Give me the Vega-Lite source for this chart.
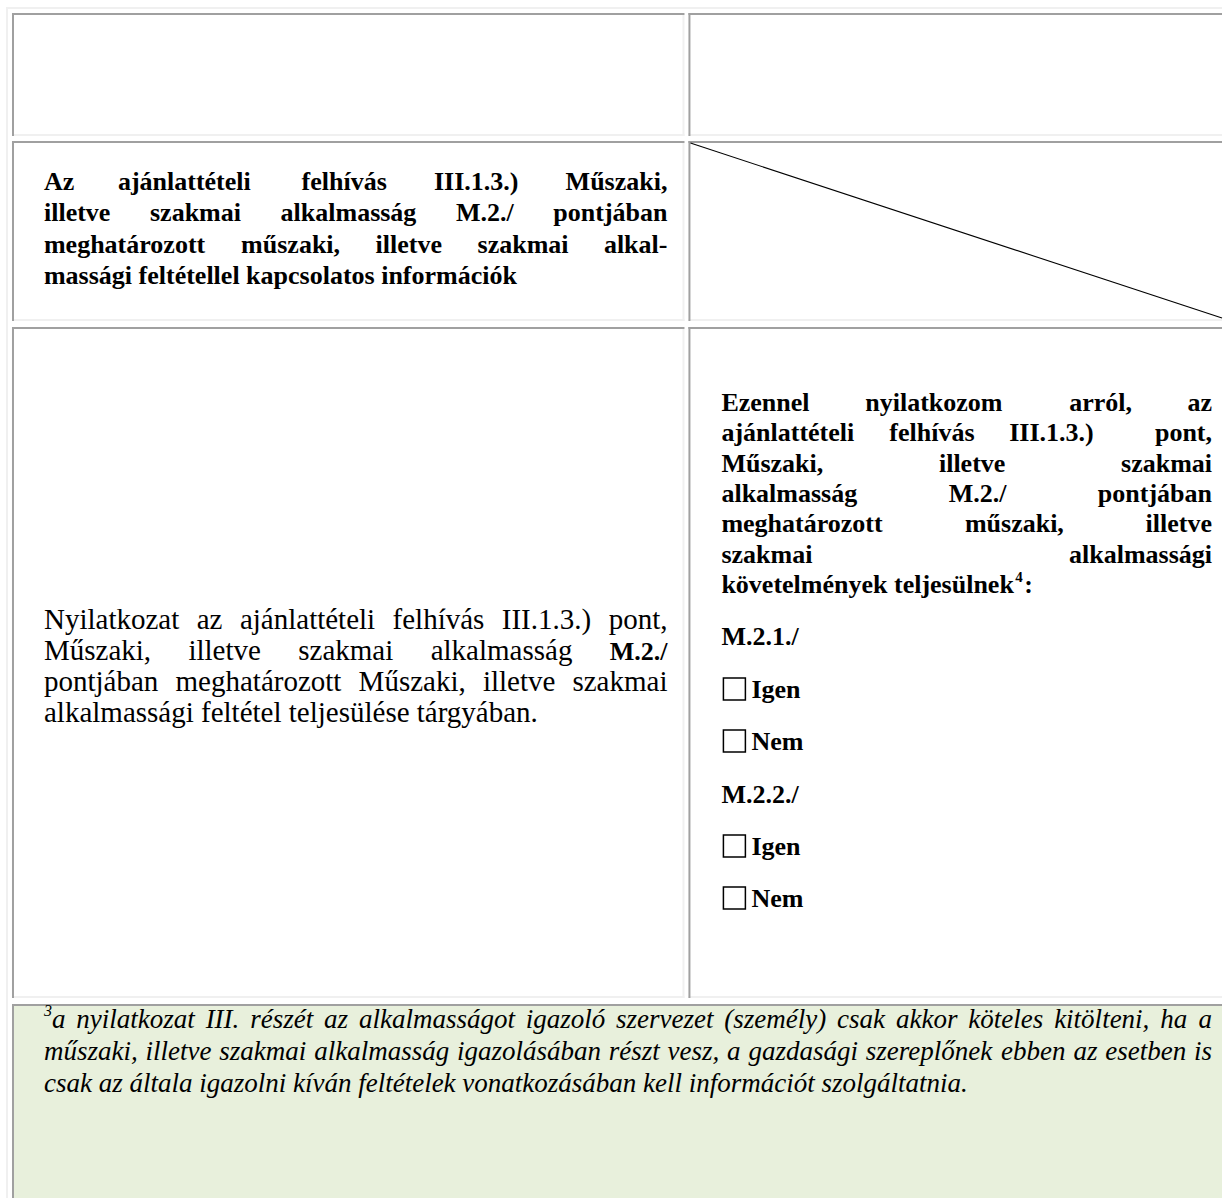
{
  "$schema": "https://vega.github.io/schema/vega-lite/v6.json",
  "width": 1223,
  "height": 1198,
  "padding": 0,
  "autosize": {"type": "fit", "contains": "padding"},
  "background": "white",
  "config": {"view": {"stroke": null}, "axis": {"disable": true}},
  "datasets": {
    "fills": [
      {"x": 14, "x2": 1223, "y": 1006, "y2": 1198, "part": "note"}
    ],
    "bars": [
      {"x": 6, "x2": 1223, "y": 7, "y2": 9, "tone": "light"},
      {"x": 6, "x2": 8, "y": 7, "y2": 1198, "tone": "light"},
      {"x": 12, "x2": 685, "y": 134, "y2": 136, "tone": "light"},
      {"x": 683, "x2": 685, "y": 13, "y2": 136, "tone": "light"},
      {"x": 689, "x2": 1223, "y": 134, "y2": 136, "tone": "light"},
      {"x": 12, "x2": 685, "y": 319, "y2": 321, "tone": "light"},
      {"x": 683, "x2": 685, "y": 141, "y2": 321, "tone": "light"},
      {"x": 689, "x2": 1223, "y": 319, "y2": 321, "tone": "light"},
      {"x": 12, "x2": 685, "y": 996, "y2": 998, "tone": "light"},
      {"x": 683, "x2": 685, "y": 327, "y2": 998, "tone": "light"},
      {"x": 689, "x2": 1223, "y": 996, "y2": 998, "tone": "light"},
      {"x": 12, "x2": 685, "y": 13, "y2": 15, "tone": "dark"},
      {"x": 12, "x2": 14, "y": 13, "y2": 136, "tone": "dark"},
      {"x": 689, "x2": 1223, "y": 13, "y2": 15, "tone": "dark"},
      {"x": 689, "x2": 691, "y": 13, "y2": 136, "tone": "dark"},
      {"x": 12, "x2": 685, "y": 141, "y2": 143, "tone": "dark"},
      {"x": 12, "x2": 14, "y": 141, "y2": 321, "tone": "dark"},
      {"x": 689, "x2": 1223, "y": 141, "y2": 143, "tone": "dark"},
      {"x": 689, "x2": 691, "y": 141, "y2": 321, "tone": "dark"},
      {"x": 12, "x2": 685, "y": 327, "y2": 329, "tone": "dark"},
      {"x": 12, "x2": 14, "y": 327, "y2": 998, "tone": "dark"},
      {"x": 689, "x2": 1223, "y": 327, "y2": 329, "tone": "dark"},
      {"x": 689, "x2": 691, "y": 327, "y2": 998, "tone": "dark"},
      {"x": 12, "x2": 1223, "y": 1004, "y2": 1006, "tone": "dark"},
      {"x": 12, "x2": 14, "y": 1004, "y2": 1198, "tone": "dark"}
    ],
    "diag": [
      {"x": 691, "y": 143, "x2": 1223, "y2": 318}
    ],
    "boxes": [
      {"x": 724, "x2": 746, "y": 678, "y2": 700},
      {"x": 724, "x2": 746, "y": 730, "y2": 752},
      {"x": 724, "x2": 746, "y": 835, "y2": 857},
      {"x": 724, "x2": 746, "y": 887, "y2": 909}
    ],
    "words": [
      {"t": "Az", "x": 44, "y": 190, "role": "h", "edge": "s"},
      {"t": "ajánlattételi", "x": 118, "y": 190, "role": "h", "edge": "s"},
      {"t": "felhívás", "x": 301.8, "y": 190, "role": "h", "edge": "s"},
      {"t": "III.1.3.)", "x": 434.3, "y": 190, "role": "h", "edge": "s"},
      {"t": "Műszaki,", "x": 668, "y": 190, "role": "h", "edge": "e"},
      {"t": "illetve", "x": 44, "y": 221, "role": "h", "edge": "s"},
      {"t": "szakmai", "x": 150.1, "y": 221, "role": "h", "edge": "s"},
      {"t": "alkalmasság", "x": 280.8, "y": 221, "role": "h", "edge": "s"},
      {"t": "M.2./", "x": 456.3, "y": 221, "role": "h", "edge": "s"},
      {"t": "pontjában", "x": 668, "y": 221, "role": "h", "edge": "e"},
      {"t": "meghatározott", "x": 44, "y": 253, "role": "h", "edge": "s"},
      {"t": "műszaki,", "x": 241.3, "y": 253, "role": "h", "edge": "s"},
      {"t": "illetve", "x": 375.9, "y": 253, "role": "h", "edge": "s"},
      {"t": "szakmai", "x": 477.9, "y": 253, "role": "h", "edge": "s"},
      {"t": "alkal-", "x": 668, "y": 253, "role": "h", "edge": "e"},
      {"t": "massági feltétellel kapcsolatos információk", "x": 44, "y": 284, "role": "h", "edge": "s"},
      {"t": "Ezennel", "x": 722, "y": 411, "role": "h", "edge": "s"},
      {"t": "nyilatkozom", "x": 866, "y": 411, "role": "h", "edge": "s"},
      {"t": "arról,", "x": 1070, "y": 411, "role": "h", "edge": "s"},
      {"t": "az", "x": 1213, "y": 411, "role": "h", "edge": "e"},
      {"t": "ajánlattételi", "x": 722, "y": 441, "role": "h", "edge": "s"},
      {"t": "felhívás", "x": 890, "y": 441, "role": "h", "edge": "s"},
      {"t": "III.1.3.)", "x": 1010, "y": 441, "role": "h", "edge": "s"},
      {"t": "pont,", "x": 1213, "y": 441, "role": "h", "edge": "e"},
      {"t": "Műszaki,", "x": 722, "y": 472, "role": "h", "edge": "s"},
      {"t": "illetve", "x": 939.7, "y": 472, "role": "h", "edge": "s"},
      {"t": "szakmai", "x": 1213, "y": 472, "role": "h", "edge": "e"},
      {"t": "alkalmasság", "x": 722, "y": 502, "role": "h", "edge": "s"},
      {"t": "M.2./", "x": 949.5, "y": 502, "role": "h", "edge": "s"},
      {"t": "pontjában", "x": 1213, "y": 502, "role": "h", "edge": "e"},
      {"t": "meghatározott", "x": 722, "y": 532, "role": "h", "edge": "s"},
      {"t": "műszaki,", "x": 965.7, "y": 532, "role": "h", "edge": "s"},
      {"t": "illetve", "x": 1213, "y": 532, "role": "h", "edge": "e"},
      {"t": "szakmai", "x": 722, "y": 563, "role": "h", "edge": "s"},
      {"t": "alkalmassági", "x": 1213, "y": 563, "role": "h", "edge": "e"},
      {"t": "követelmények teljesülnek", "x": 722, "y": 593, "role": "h", "edge": "s"},
      {"t": "4", "x": 1016, "y": 582, "role": "hs", "edge": "s"},
      {"t": ":", "x": 1025, "y": 593, "role": "h", "edge": "s"},
      {"t": "M.2.1./", "x": 722, "y": 645, "role": "h", "edge": "s"},
      {"t": "Igen", "x": 752, "y": 698, "role": "h", "edge": "s"},
      {"t": "Nem", "x": 752, "y": 750, "role": "h", "edge": "s"},
      {"t": "M.2.2./", "x": 722, "y": 803, "role": "h", "edge": "s"},
      {"t": "Igen", "x": 752, "y": 855, "role": "h", "edge": "s"},
      {"t": "Nem", "x": 752, "y": 907, "role": "h", "edge": "s"},
      {"t": "Nyilatkozat", "x": 44, "y": 629, "role": "r", "edge": "s"},
      {"t": "az", "x": 196.8, "y": 629, "role": "r", "edge": "s"},
      {"t": "ajánlattételi", "x": 240.1, "y": 629, "role": "r", "edge": "s"},
      {"t": "felhívás", "x": 392.9, "y": 629, "role": "r", "edge": "s"},
      {"t": "III.1.3.)", "x": 502.2, "y": 629, "role": "r", "edge": "s"},
      {"t": "pont,", "x": 668, "y": 629, "role": "r", "edge": "e"},
      {"t": "Műszaki,", "x": 44, "y": 660, "role": "r", "edge": "s"},
      {"t": "illetve", "x": 188.6, "y": 660, "role": "r", "edge": "s"},
      {"t": "szakmai", "x": 298.5, "y": 660, "role": "r", "edge": "s"},
      {"t": "alkalmasság", "x": 431, "y": 660, "role": "r", "edge": "s"},
      {"t": "M.2./", "x": 668, "y": 660, "role": "h", "edge": "e"},
      {"t": "pontjában", "x": 44, "y": 691, "role": "r", "edge": "s"},
      {"t": "meghatározott", "x": 175.7, "y": 691, "role": "r", "edge": "s"},
      {"t": "Műszaki,", "x": 358.9, "y": 691, "role": "r", "edge": "s"},
      {"t": "illetve", "x": 483.3, "y": 691, "role": "r", "edge": "s"},
      {"t": "szakmai", "x": 668, "y": 691, "role": "r", "edge": "e"},
      {"t": "alkalmassági feltétel teljesülése tárgyában.", "x": 44, "y": 722, "role": "r", "edge": "s"},
      {"t": "3", "x": 44, "y": 1016, "role": "ns", "edge": "s"},
      {"t": "a", "x": 52, "y": 1028, "role": "n", "edge": "s"},
      {"t": "nyilatkozat", "x": 76.4, "y": 1028, "role": "n", "edge": "s"},
      {"t": "III.", "x": 205.8, "y": 1028, "role": "n", "edge": "s"},
      {"t": "részét", "x": 250.4, "y": 1028, "role": "n", "edge": "s"},
      {"t": "az", "x": 324.3, "y": 1028, "role": "n", "edge": "s"},
      {"t": "alkalmasságot", "x": 359.2, "y": 1028, "role": "n", "edge": "s"},
      {"t": "igazoló", "x": 526.1, "y": 1028, "role": "n", "edge": "s"},
      {"t": "szervezet", "x": 616.5, "y": 1028, "role": "n", "edge": "s"},
      {"t": "(személy)", "x": 724.9, "y": 1028, "role": "n", "edge": "s"},
      {"t": "csak", "x": 837.8, "y": 1028, "role": "n", "edge": "s"},
      {"t": "akkor", "x": 896.7, "y": 1028, "role": "n", "edge": "s"},
      {"t": "köteles", "x": 969.1, "y": 1028, "role": "n", "edge": "s"},
      {"t": "kitölteni,", "x": 1055, "y": 1028, "role": "n", "edge": "s"},
      {"t": "ha", "x": 1161.2, "y": 1028, "role": "n", "edge": "s"},
      {"t": "a", "x": 1213, "y": 1028, "role": "n", "edge": "e"},
      {"t": "műszaki,", "x": 44, "y": 1060, "role": "n", "edge": "s"},
      {"t": "illetve", "x": 145.6, "y": 1060, "role": "n", "edge": "s"},
      {"t": "szakmai", "x": 219.5, "y": 1060, "role": "n", "edge": "s"},
      {"t": "alkalmasság", "x": 314.4, "y": 1060, "role": "n", "edge": "s"},
      {"t": "igazolásában", "x": 457.3, "y": 1060, "role": "n", "edge": "s"},
      {"t": "részt", "x": 609.2, "y": 1060, "role": "n", "edge": "s"},
      {"t": "vesz,", "x": 668.1, "y": 1060, "role": "n", "edge": "s"},
      {"t": "a", "x": 727.7, "y": 1060, "role": "n", "edge": "s"},
      {"t": "gazdasági", "x": 749.1, "y": 1060, "role": "n", "edge": "s"},
      {"t": "szereplőnek", "x": 866.5, "y": 1060, "role": "n", "edge": "s"},
      {"t": "ebben", "x": 1001.9, "y": 1060, "role": "n", "edge": "s"},
      {"t": "az", "x": 1074.3, "y": 1060, "role": "n", "edge": "s"},
      {"t": "esetben", "x": 1106.2, "y": 1060, "role": "n", "edge": "s"},
      {"t": "is", "x": 1213, "y": 1060, "role": "n", "edge": "e"},
      {"t": "csak az általa igazolni kíván feltételek vonatkozásában kell információt szolgáltatnia.", "x": 44, "y": 1092, "role": "n", "edge": "s"}
    ]
  },
  "layer": [
    {
      "data": {"name": "fills"},
      "mark": {"type": "rect", "fill": "#e8f0dc"},
      "encoding": {
        "x": {"field": "x", "type": "quantitative", "scale": {"domain": [0, 1223], "nice": false, "zero": false}, "axis": null},
        "x2": {"field": "x2"},
        "y": {"field": "y", "type": "quantitative", "scale": {"domain": [0, 1198], "nice": false, "zero": false, "reverse": true}, "axis": null},
        "y2": {"field": "y2"}
      }
    },
    {
      "data": {"name": "bars"},
      "mark": {"type": "rect"},
      "encoding": {
        "x": {"field": "x", "type": "quantitative", "axis": null},
        "x2": {"field": "x2"},
        "y": {"field": "y", "type": "quantitative", "axis": null},
        "y2": {"field": "y2"},
        "color": {"field": "tone", "type": "nominal", "scale": {"domain": ["dark", "light"], "range": ["#a0a0a0", "#f0f0f0"]}, "legend": null}
      }
    },
    {
      "data": {"name": "diag"},
      "mark": {"type": "rule", "color": "#000000", "strokeWidth": 1.1},
      "encoding": {
        "x": {"field": "x", "type": "quantitative", "axis": null},
        "x2": {"field": "x2"},
        "y": {"field": "y", "type": "quantitative", "axis": null},
        "y2": {"field": "y2"}
      }
    },
    {
      "data": {"name": "boxes"},
      "mark": {"type": "rect", "fill": null, "stroke": "#000000", "strokeWidth": 1.5},
      "encoding": {
        "x": {"field": "x", "type": "quantitative", "axis": null},
        "x2": {"field": "x2"},
        "y": {"field": "y", "type": "quantitative", "axis": null},
        "y2": {"field": "y2"}
      }
    },
    {
      "data": {"name": "words"},
      "transform": [{"filter": "datum.role === 'h' && datum.edge === 's'"}],
      "mark": {"type": "text", "font": "Liberation Serif, DejaVu Serif, serif", "fontWeight": "bold", "fontSize": 26, "align": "left", "baseline": "alphabetic", "color": "#000000"},
      "encoding": {
        "x": {"field": "x", "type": "quantitative", "axis": null},
        "y": {"field": "y", "type": "quantitative", "axis": null},
        "text": {"field": "t"}
      }
    },
    {
      "data": {"name": "words"},
      "transform": [{"filter": "datum.role === 'h' && datum.edge === 'e'"}],
      "mark": {"type": "text", "font": "Liberation Serif, DejaVu Serif, serif", "fontWeight": "bold", "fontSize": 26, "align": "right", "baseline": "alphabetic", "color": "#000000"},
      "encoding": {
        "x": {"field": "x", "type": "quantitative", "axis": null},
        "y": {"field": "y", "type": "quantitative", "axis": null},
        "text": {"field": "t"}
      }
    },
    {
      "data": {"name": "words"},
      "transform": [{"filter": "datum.role === 'hs'"}],
      "mark": {"type": "text", "font": "Liberation Serif, DejaVu Serif, serif", "fontWeight": "bold", "fontSize": 15, "align": "left", "baseline": "alphabetic", "color": "#000000"},
      "encoding": {
        "x": {"field": "x", "type": "quantitative", "axis": null},
        "y": {"field": "y", "type": "quantitative", "axis": null},
        "text": {"field": "t"}
      }
    },
    {
      "data": {"name": "words"},
      "transform": [{"filter": "datum.role === 'r' && datum.edge === 's'"}],
      "mark": {"type": "text", "font": "Liberation Serif, DejaVu Serif, serif", "fontSize": 29, "align": "left", "baseline": "alphabetic", "color": "#000000"},
      "encoding": {
        "x": {"field": "x", "type": "quantitative", "axis": null},
        "y": {"field": "y", "type": "quantitative", "axis": null},
        "text": {"field": "t"}
      }
    },
    {
      "data": {"name": "words"},
      "transform": [{"filter": "datum.role === 'r' && datum.edge === 'e'"}],
      "mark": {"type": "text", "font": "Liberation Serif, DejaVu Serif, serif", "fontSize": 29, "align": "right", "baseline": "alphabetic", "color": "#000000"},
      "encoding": {
        "x": {"field": "x", "type": "quantitative", "axis": null},
        "y": {"field": "y", "type": "quantitative", "axis": null},
        "text": {"field": "t"}
      }
    },
    {
      "data": {"name": "words"},
      "transform": [{"filter": "datum.role === 'n' && datum.edge === 's'"}],
      "mark": {"type": "text", "font": "Liberation Serif, DejaVu Serif, serif", "fontStyle": "italic", "fontSize": 27, "align": "left", "baseline": "alphabetic", "color": "#000000"},
      "encoding": {
        "x": {"field": "x", "type": "quantitative", "axis": null},
        "y": {"field": "y", "type": "quantitative", "axis": null},
        "text": {"field": "t"}
      }
    },
    {
      "data": {"name": "words"},
      "transform": [{"filter": "datum.role === 'n' && datum.edge === 'e'"}],
      "mark": {"type": "text", "font": "Liberation Serif, DejaVu Serif, serif", "fontStyle": "italic", "fontSize": 27, "align": "right", "baseline": "alphabetic", "color": "#000000"},
      "encoding": {
        "x": {"field": "x", "type": "quantitative", "axis": null},
        "y": {"field": "y", "type": "quantitative", "axis": null},
        "text": {"field": "t"}
      }
    },
    {
      "data": {"name": "words"},
      "transform": [{"filter": "datum.role === 'ns'"}],
      "mark": {"type": "text", "font": "Liberation Serif, DejaVu Serif, serif", "fontStyle": "italic", "fontSize": 16, "align": "left", "baseline": "alphabetic", "color": "#000000"},
      "encoding": {
        "x": {"field": "x", "type": "quantitative", "axis": null},
        "y": {"field": "y", "type": "quantitative", "axis": null},
        "text": {"field": "t"}
      }
    }
  ]
}
